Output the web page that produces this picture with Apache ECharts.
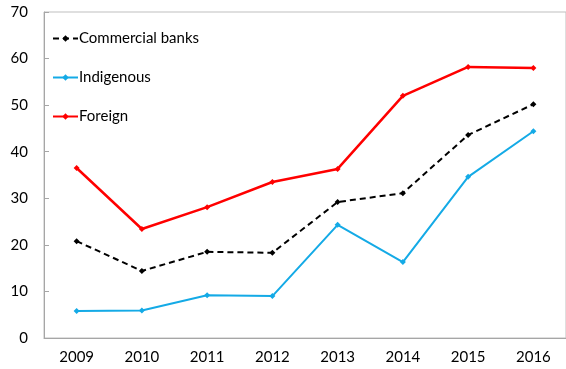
<!DOCTYPE html>
<html><head><meta charset="utf-8">
<script src="https://cdn.jsdelivr.net/npm/echarts@6/dist/echarts.min.js"></script>
<style>html,body{margin:0;padding:0;background:#fff}#c{width:566px;height:369px}</style>
</head><body><div id="c"></div>
<script>
const years = ['2009','2010','2011','2012','2013','2014','2015','2016'];
const commercial = [20.8, 14.4, 18.5, 18.3, 29.2, 31.1, 43.6, 50.2];
const indigenous = [5.8, 5.9, 9.2, 9.0, 24.3, 16.3, 34.6, 44.4];
const foreign = [36.5, 23.4, 28.1, 33.5, 36.3, 52.0, 58.2, 58.0];
const FONT = 'Lato, "Open Sans", sans-serif';
const chart = echarts.init(document.getElementById('c'));
function ser(name, data, color, type, width){
  return {name, type:'line', data, symbol:'diamond', symbolSize:6,
    itemStyle:{color}, lineStyle:{color, width, type}, z: name==='Commercial banks'?3:2};
}
chart.setOption({
  animation:false,
  grid:{left:44, right:-6, top:12, bottom:31, show:true, borderColor:'#bfbfbf', borderWidth:1, containLabel:false},
  legend:{orient:'vertical', left:47, top:26, itemWidth:25, itemHeight:8, itemGap:24,
    textStyle:{fontFamily:FONT, fontSize:15, color:'#000', padding:[0,0,0,-4]},
    data:['Commercial banks','Indigenous','Foreign']},
  xAxis:{type:'category', data:years, boundaryGap:true,
    axisLine:{lineStyle:{color:'#a6a6a6'}}, axisTick:{inside:true, lineStyle:{color:'#a6a6a6'}, length:5},
    axisLabel:{fontFamily:FONT, fontSize:15, color:'#000', margin:12}},
  yAxis:{type:'value', min:0, max:70, interval:10, splitLine:{show:false},
    axisLine:{show:true, lineStyle:{color:'#a6a6a6'}}, axisTick:{show:true, inside:true, length:5, lineStyle:{color:'#a6a6a6'}},
    axisLabel:{fontFamily:FONT, fontSize:15, color:'#000', margin:16}},
  series:[
    ser('Commercial banks', commercial, '#000000', [6,4], 2),
    ser('Indigenous', indigenous, '#14aae6', 'solid', 2),
    ser('Foreign', foreign, '#ff0000', 'solid', 2.5)
  ]
});
</script></body></html>
